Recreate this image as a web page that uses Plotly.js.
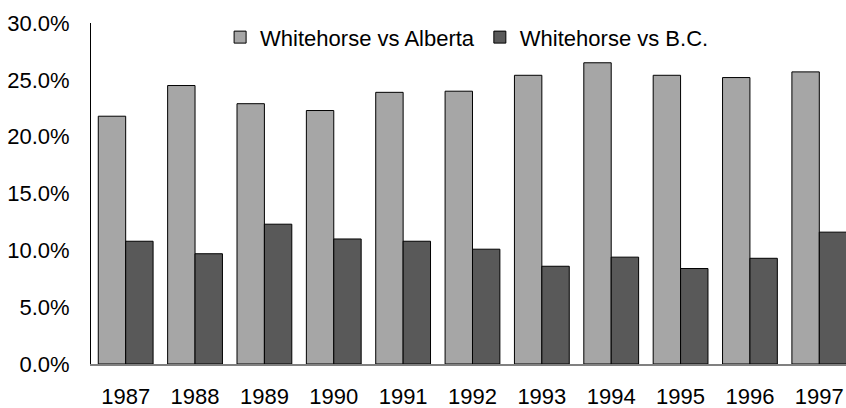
<!DOCTYPE html>
<html>
<head>
<meta charset="utf-8">
<script src="https://cdn.plot.ly/plotly-3.0.1.min.js"></script>
<style>
html,body{margin:0;padding:0;background:#fff;}
#chart{width:846px;height:408px;}
</style>
</head>
<body>
<div id="chart"></div>
<script>
var years = ["1987","1988","1989","1990","1991","1992","1993","1994","1995","1996","1997"];
var vsAlberta = [21.8, 24.5, 22.9, 22.3, 23.9, 24.0, 25.4, 26.5, 25.4, 25.2, 25.7];
var vsBC = [10.8, 9.7, 12.3, 11.0, 10.8, 10.1, 8.6, 9.4, 8.4, 9.3, 11.6];
var seriesNames = ["Whitehorse vs Alberta", "Whitehorse vs B.C."];
var yTicks = [0, 5, 10, 15, 20, 25, 30];

var font = "Liberation Sans, Arial, sans-serif";

var traces = [
  {
    type: "bar", x: years, y: vsAlberta, name: seriesNames[0],
    marker: {color: "#a6a6a6", line: {color: "#000", width: 1}},
    hoverinfo: "none"
  },
  {
    type: "bar", x: years, y: vsBC, name: seriesNames[1],
    marker: {color: "#595959", line: {color: "#000", width: 1}},
    hoverinfo: "none"
  }
];

var layout = {
  width: 846, height: 408,
  margin: {l: 91, r: 0, t: 23, b: 44, pad: 0},
  paper_bgcolor: "#fff", plot_bgcolor: "#fff",
  font: {family: font, size: 22, color: "#000"},
  barmode: "group", bargap: 0.21, bargroupgap: 0,
  showlegend: true,
  legend: {
    orientation: "h", x: 0.171, xanchor: "left", y: 0.958, yanchor: "middle",
    bgcolor: "rgba(0,0,0,0)", font: {family: font, size: 22, color: "#000"},
    itemclick: false, itemdoubleclick: false
  },
  xaxis: {
    type: "category", range: [-0.5, 10.385], fixedrange: true,
    showline: true, linecolor: "#808080", linewidth: 1.5,
    showgrid: false, zeroline: false, ticks: "", ticklabelstandoff: 12,
    tickfont: {family: font, size: 22, color: "#000"}, automargin: false
  },
  yaxis: {
    range: [0, 30], fixedrange: true,
    tickvals: yTicks, ticktext: yTicks.map(function(v){return v.toFixed(1) + "%";}),
    showline: true, linecolor: "#000", linewidth: 1,
    showgrid: false, zeroline: false, ticks: "", ticklabelstandoff: 16,
    tickfont: {family: font, size: 22, color: "#000"}, automargin: false
  }
};

Plotly.newPlot("chart", traces, layout, {displayModeBar: false, staticPlot: true});
</script>
</body>
</html>
